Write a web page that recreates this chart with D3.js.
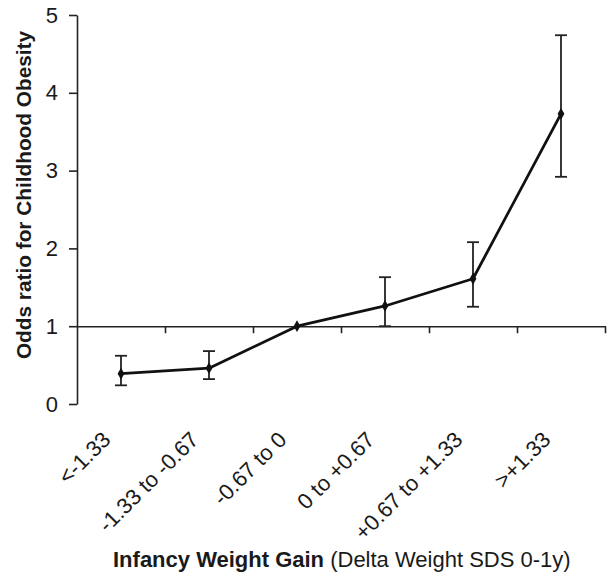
<!DOCTYPE html>
<html>
<head>
<meta charset="utf-8">
<script src="https://cdn.jsdelivr.net/npm/d3@7"></script>
<style>
  html, body { margin: 0; padding: 0; background: #fff; }
  svg { display: block; }
  text { font-family: "Liberation Sans", Arial, sans-serif; fill: #1a1a1a; }
</style>
</head>
<body>
<svg id="chart" width="616" height="580"></svg>
<script>
const categories = ["<-1.33", "-1.33 to -0.67", "-0.67 to 0", "0 to +0.67", "+0.67 to +1.33", ">+1.33"];
const oddsRatio = [0.39, 0.46, 1.0, 1.26, 1.61, 3.73];
const ciLower = [0.24, 0.32, null, 1.0, 1.25, 2.92];
const ciUpper = [0.62, 0.68, null, 1.63, 2.08, 4.74];
const yTicks = [0, 1, 2, 3, 4, 5];

const svg = d3.select("#chart");
const mLeft = 77, mRight = 605, mTop = 15, mBottom = 404;

const x = d3.scaleBand().domain(categories).range([mLeft, mRight]).padding(0);
const xb = d3.scaleLinear().domain([0, categories.length]).range([mLeft, mRight]);
const y = d3.scaleLinear().domain([0, 5]).range([mBottom, mTop]);

// Y axis
const yAxis = svg.append("g")
  .attr("transform", `translate(${mLeft},0)`)
  .call(d3.axisLeft(y).tickValues(yTicks).tickFormat(d3.format("d")).tickSize(8).tickSizeOuter(0).tickPadding(11));
yAxis.selectAll("path, line").attr("stroke", "#222").attr("stroke-width", 1.6);
yAxis.selectAll("text").style("font-size", "22px").attr("fill", "#1a1a1a");

// Reference horizontal axis at OR = 1 with boundary ticks
const xAxis = svg.append("g")
  .attr("transform", `translate(0,${y(1)})`)
  .call(d3.axisBottom(xb).tickValues(d3.range(1, categories.length + 1)).tickSize(7).tickSizeOuter(0).tickFormat(""));
xAxis.selectAll("path, line").attr("stroke", "#222").attr("stroke-width", 1.6);

// Category labels (rotated)
svg.append("g").selectAll("text")
  .data(categories)
  .join("text")
  .attr("transform", d => `translate(${x(d) + x.bandwidth() / 2 - 9},${441}) rotate(-45)`)
  .attr("text-anchor", "end")
  .style("font-size", "22px")
  .text(d => d);

// Error bars
const cx = i => x(categories[i]) + x.bandwidth() / 2;
const eb = svg.append("g").attr("stroke", "#222").attr("stroke-width", 1.8);
oddsRatio.forEach((v, i) => {
  if (ciLower[i] == null) return;
  eb.append("line").attr("x1", cx(i)).attr("x2", cx(i)).attr("y1", y(ciLower[i])).attr("y2", y(ciUpper[i]));
  eb.append("line").attr("x1", cx(i) - 6).attr("x2", cx(i) + 6).attr("y1", y(ciLower[i])).attr("y2", y(ciLower[i]));
  eb.append("line").attr("x1", cx(i) - 6).attr("x2", cx(i) + 6).attr("y1", y(ciUpper[i])).attr("y2", y(ciUpper[i]));
});

// Line
svg.append("path")
  .datum(oddsRatio)
  .attr("fill", "none")
  .attr("stroke", "#111")
  .attr("stroke-width", 2.8)
  .attr("stroke-linejoin", "round")
  .attr("d", d3.line().x((d, i) => cx(i)).y(d => y(d)));

// Diamond markers
svg.append("g").selectAll("path")
  .data(oddsRatio)
  .join("path")
  .attr("transform", (d, i) => `translate(${cx(i)},${y(d)})`)
  .attr("d", d3.symbol().type(d3.symbolDiamond).size(40))
  .attr("fill", "#111");

// Y title
svg.append("text")
  .attr("transform", `translate(31,195) rotate(-90)`)
  .attr("text-anchor", "middle")
  .style("font-size", "20.8px")
  .style("font-weight", "bold")
  .text("Odds ratio for Childhood Obesity");

// X title
const xt = svg.append("text")
  .attr("x", 113)
  .attr("y", 567)
  .style("font-size", "22px");
xt.append("tspan").style("font-weight", "bold").text("Infancy Weight Gain");
xt.append("tspan").text(" (Delta Weight SDS 0-1y)");
</script>
</body>
</html>
